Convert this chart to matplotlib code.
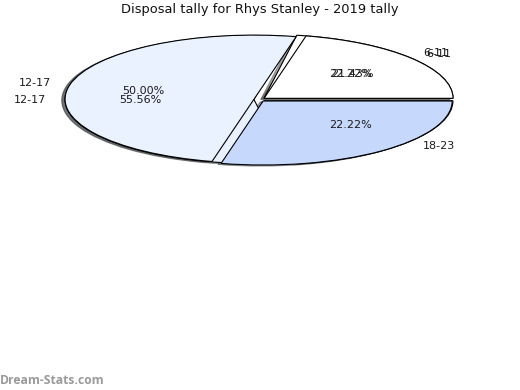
import matplotlib
matplotlib.use('Agg')
import matplotlib.pyplot as plt

categories = ['6-11', '12-17', '18-23']
tally_2019 = [2, 5, 2]
tally_other = [3, 7, 4]
labels_other = ['6-11', '12-17', '']
colors = ['#ffffff', '#eaf2ff', '#c6d9fd']
title = 'Disposal tally for Rhys Stanley - 2019 tally'

fig = plt.figure(figsize=(5.2, 3.9), dpi=100)
ax = fig.add_axes([0.0449, 0.5397, 0.9087, 0.4103])

common = dict(colors=colors, explode=[0.03] * 3, autopct='%.2f%%',
              shadow=dict(ox=-0.012, oy=-0.012),
              wedgeprops=dict(edgecolor='black', linewidth=0.8),
              textprops=dict(fontsize=8, color='#1a1a1a'))

ax.pie(tally_2019, labels=categories, **common)
w, t, at = ax.pie(tally_other, labels=labels_other, **common)
at[2].set_visible(False)

ax.set_aspect('auto')
ax.set_xlim(-1.25, 1.25)
ax.set_ylim(-1.25, 1.25)
ax.axis('off')

fig.text(0.5, 1 - 10 / 390, title, ha='center', va='center', fontsize=9.4, color='#111111')
fig.text(0.0, 1 - 380 / 390, 'Dream-Stats.com', ha='left', va='center', fontsize=8.7,
         fontweight='bold', color='#9a9a9a', family='Open Sans')

fig.savefig('out.png', dpi=100)
